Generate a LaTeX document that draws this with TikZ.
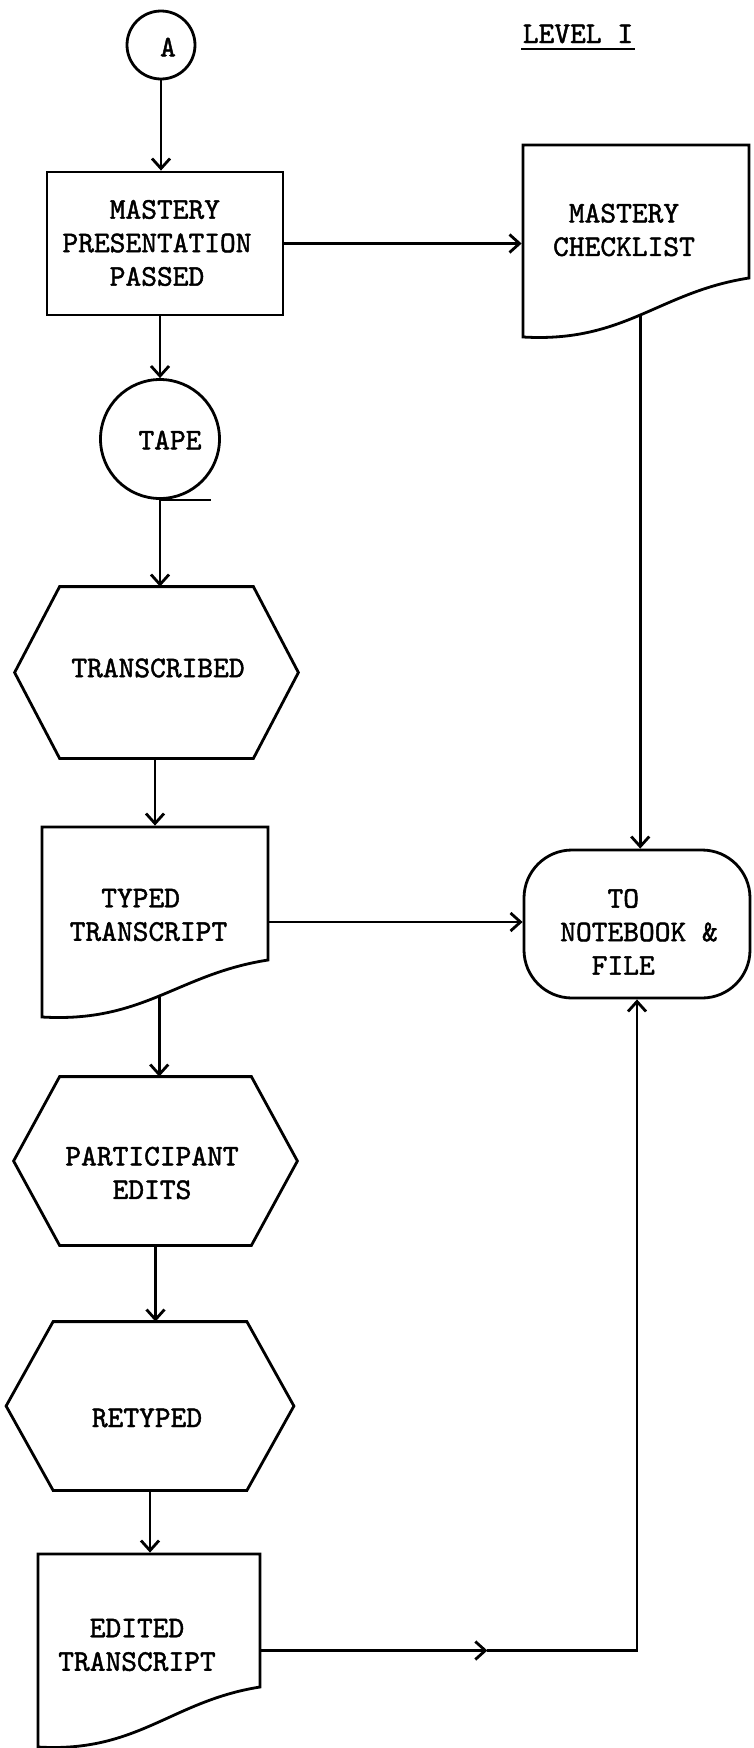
\documentclass[tikz,border=0pt]{standalone}
\usepackage{fontspec}
\newfontfamily\tw{lmmono10-regular.otf}[FakeBold=1.5]
\usetikzlibrary{calc,arrows.meta}

% hexagonal process box drawn around a frame node: #1 node name, #2 chamfer width
\newcommand\hexoutline[2]{%
  \draw[outline] ($(#1.north west)+(#2,0)$) -- ($(#1.north east)+(-#2,0)$) -- (#1.east)
    -- ($(#1.south east)+(-#2,0)$) -- ($(#1.south west)+(#2,0)$) -- (#1.west) -- cycle;}

\begin{document}
\begin{tikzpicture}[x=1pt,y=-1pt,
  line width=2.8pt,
  >={Straight Barb[length=10pt,width=18pt]},
  outline/.style={draw=black},
  arr/.style={->},
  frame/.style={rectangle, draw=none, inner sep=0pt},
  lbl/.style={font=\tw\fontsize{30}{33.5}\selectfont, align=center, inner sep=0pt}]

\useasboundingbox (0,0) rectangle (753,1748);
\fill[white] (0,0) rectangle (753,1748);

% connector A and heading
\node[circle, draw, minimum size=68pt, inner sep=0pt] (A) at (161,45) {};
\node[lbl] (A-t) at (168,47) {A};
\node[lbl, anchor=base] (lv) at (578,43) {LEVEL I};
\draw[line width=2pt] ($(lv.base west)+(0,6)$) -- ($(lv.base east)+(0,6)$);

% mastery presentation box
\node[rectangle, draw, minimum width=236pt, minimum height=143pt, inner sep=0pt] (mp) at (165,243.5) {};
\node[lbl, align=left] (mp-t) at (157,243) {\phantom{PRE}MASTERY\\PRESENTATION\\\phantom{PRE}PASSED};

% mastery checklist document
\node[frame, minimum width=226pt, minimum height=192pt] (cl) at (636,241) {};
\draw[outline] (523,337) -- (523,145) -- (749,145) -- (749,278)
  .. controls (658.6,292) and (624.7,343) .. (523,337) coordinate[pos=0.5] (cl-b) -- cycle;
\node[lbl, align=left] (cl-t) at (624,230) {\phantom{C}MASTERY\\CHECKLIST};

% tape
\node[circle, draw, minimum size=119pt, inner sep=0pt] (tape) at (160,439) {};
\coordinate (tape-tail) at ($(tape.south)+(51,0)$);
\draw (tape.south) -- (tape-tail);
\node[lbl] (tape-t) at (170,440) {TAPE};

% transcribed
\node[frame, minimum width=281pt, minimum height=169pt] (tr) at (156.5,672.5) {};
\hexoutline{tr}{45}
\node[lbl] (tr-t) at (158,668) {TRANSCRIBED};

% typed transcript document
\node[frame, minimum width=226pt, minimum height=190pt] (tt) at (155,922) {};
\draw[outline] (42,1017) -- (42,827) -- (268,827) -- (268,960)
  .. controls (177.6,974) and (143.7,1023) .. (42,1017) coordinate[pos=0.5] (tt-b) -- cycle;
\node[lbl, align=left] (tt-t) at (148.5,915) {\phantom{TR}TYPED\\TRANSCRIPT};

% participant edits
\node[frame, minimum width=281pt, minimum height=166pt] (pe) at (155.5,1161) {};
\hexoutline{pe}{46}
\node[lbl] (pe-t) at (152,1173) {PARTICIPANT\\EDITS};

% retyped
\node[frame, minimum width=285pt, minimum height=166pt] (re) at (150,1406) {};
\hexoutline{re}{47}
\node[lbl] (re-t) at (147,1418) {RETYPED};

% edited transcript document
\node[frame, minimum width=222pt, minimum height=193pt] (et) at (149,1650.5) {};
\draw[outline] (38,1747) -- (38,1554) -- (260,1554) -- (260,1687)
  .. controls (171.2,1701) and (137.9,1753) .. (38,1747) -- cycle;
\node[lbl, align=left] (et-t) at (137,1645) {\phantom{TR}EDITED\\TRANSCRIPT};

% terminal: notebook and file
\node[rectangle, draw, rounded corners=48pt, minimum width=226pt, minimum height=148pt, inner sep=0pt] (nb) at (637,924) {};
\node[lbl, align=left] (nb-t) at (639,932) {\phantom{NOT}TO\\NOTEBOOK \&\\\phantom{NO}FILE};

% connectors
\draw[arr] (A.south) -- (A.south |- mp.north);
\draw[arr] (mp.east) -- (mp.east -| cl.west);
\draw[arr] (tape |- mp.south) -- (tape.north);
\draw[arr] (tape.south) -- (tape.south |- tr.north);
\draw[arr] (tt.north |- tr.south) -- (tt.north);
\draw[arr] (tt-b) -- (tt-b |- pe.north);
\draw[arr] (pe.south) -- (pe.south |- re.north);
\draw[arr] (re.south) -- (re.south |- et.north);
\draw[arr] (tt.east) -- (tt.east -| nb.west);
\draw[arr] (cl-b) -- (cl-b |- nb.north);
\path (et.east) ++(226,0) coordinate (mid);
\draw[arr] (et.east) -- (mid);
\draw[arr] (mid) -- (mid -| nb.south) -- (nb.south);

\end{tikzpicture}
\end{document}
